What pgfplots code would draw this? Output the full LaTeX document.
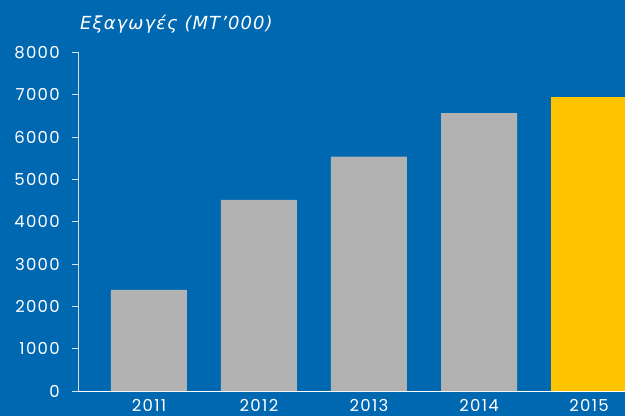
\documentclass[border=0pt]{standalone}
\usepackage{fontspec}
\setmainfont{Poppins}[LetterSpace=8]
\newfontfamily\titlefont{DejaVu Sans}[LetterSpace=6]
\usepackage{pgfplots}
\pgfplotsset{compat=1.18}
\definecolor{bg}{HTML}{0067B1}
\definecolor{bargrey}{HTML}{B2B2B2}
\definecolor{baryellow}{HTML}{FFC400}
\definecolor{axisline}{HTML}{D5E0EC}
\begin{document}
\begin{tikzpicture}[x=1pt,y=1pt]
\fill[bg] (0,0) rectangle (625,416);
\node[anchor=base west, inner sep=0pt, text=white, font=\titlefont\itshape\fontsize{18}{21}\selectfont] at (80,386) {Εξαγωγές (ΜΤ’000)};
\begin{axis}[
  at={(79pt,25pt)}, anchor=south west,
  scale only axis, width=546pt, height=338.5pt,
  xmin=-0.636, xmax=4.327, ymin=0, ymax=8000,
  axis x line=bottom, axis y line=left,
  axis line style={axisline, line width=1pt, -},
  x axis line style={white},
  xtick={0,1,2,3,4},
  xticklabels={2011,2012,2013,2014,2015},
  ytick={0,1000,...,8000},
  major x tick style={draw=none},
  major y tick style={axisline, line width=1pt},
  tick align=outside, major tick length=7pt,
  /pgf/number format/assume math mode=true,
  /pgf/number format/1000 sep={},
  tick label style={text=white, font=\fontsize{16.5}{19}\selectfont},
  yticklabel style={anchor=east, inner sep=0pt, xshift=-12pt},
  xticklabel style={anchor=north, inner sep=0pt, yshift=-1.5pt},
  ybar, bar width=76pt, bar shift=0pt,
]
\addplot[draw=none, fill=bargrey] coordinates {(0,2390) (1,4520) (2,5540) (3,6570)};
\addplot[draw=none, fill=baryellow] coordinates {(4,6950)};
\end{axis}
\pgfresetboundingbox
\path (0,0) rectangle (625,416);
\end{tikzpicture}
\end{document}
